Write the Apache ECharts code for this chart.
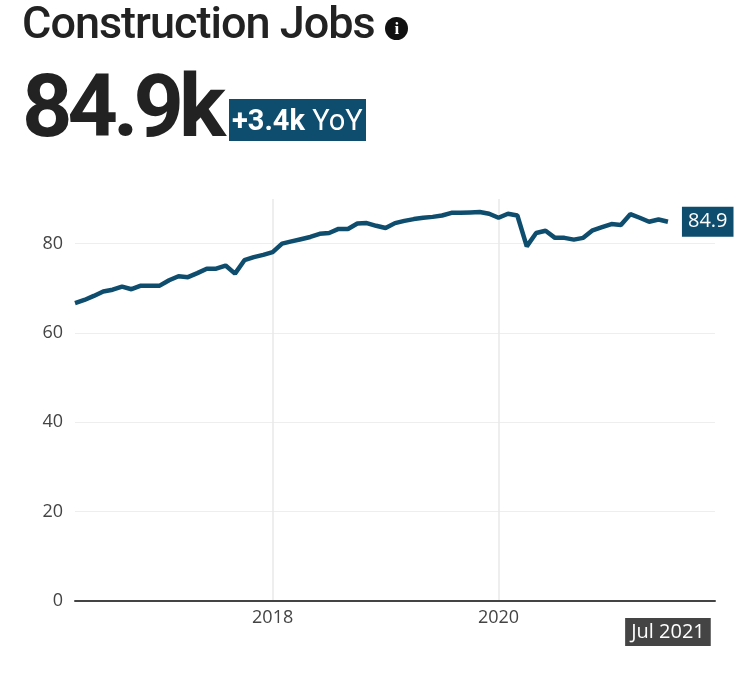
<!DOCTYPE html>
<html>
<head>
<meta charset="utf-8">
<script src="https://cdn.jsdelivr.net/npm/echarts@6/dist/echarts.min.js"></script>
<style>
  body { margin: 0; background: #fff; font-family: Roboto, sans-serif; }
  .head { position: absolute; left: 22px; top: 0; color: #222; z-index: 2; }
  .title { font-size: 45px; font-weight: 500; letter-spacing: -1px; line-height: 46px; }
  .info { display: inline-block; width: 23px; height: 23px; border-radius: 50%; background: #111; color: #fff;
          font: bold 17px serif; text-align: center; line-height: 23px; vertical-align: 4px; }
  .big { font-size: 88px; font-weight: 700; letter-spacing: -5px; line-height: 100px; margin-top: 10px; }
  .badge { display: inline-block; background: #0e4d6e; color: #fff; font-size: 29px; font-weight: 400;
           letter-spacing: 0; padding: 0 3px; line-height: 42px; vertical-align: 6px; margin-left: 8px; }
  .badge b { font-weight: 700; }
  .chart { position: absolute; left: 0; top: 0; width: 756px; height: 686px; }
</style>
</head>
<body>
<div class="head">
  <div class="title">Construction Jobs <span class="info">i</span></div>
  <div class="big">84.9k<span class="badge"><b>+3.4k</b> YoY</span></div>
</div>
<div class="chart"></div>
<script>
var monthNames = ['Jan','Feb','Mar','Apr','May','Jun','Jul','Aug','Sep','Oct','Nov','Dec'];
// Apr 2016 .. Dec 2021
var months = [];
for (var y = 2016; y <= 2021; y++) {
  for (var m = 0; m < 12; m++) {
    if (y === 2016 && m < 3) continue;
    months.push(monthNames[m] + ' ' + y);
  }
}
var jobs = [66.7, 67.4, 68.3, 69.3, 69.7, 70.4, 69.8, 70.6, 70.6,
  70.6, 71.8, 72.7, 72.5, 73.4, 74.4, 74.4, 75.1, 73.3, 76.3, 77.0, 77.5,
  78.1, 80.0, 80.5, 81.0, 81.5, 82.2, 82.4, 83.3, 83.3, 84.5, 84.6, 84.0,
  83.5, 84.6, 85.1, 85.5, 85.8, 86.0, 86.3, 86.9, 86.9, 87.0, 87.1, 86.7,
  85.8, 86.7, 86.3, 79.4, 82.4, 82.9, 81.3, 81.3, 80.9, 81.3, 83.0, 83.7,
  84.4, 84.2, 86.6, 85.8, 84.9, 85.4, 84.9];
var yTicks = [0, 20, 40, 60, 80];

var chart = echarts.init(document.querySelector('.chart'));
chart.setOption({
  animation: false,
  grid: { left: 75, right: 41, top: 199, bottom: 85 },
  xAxis: {
    type: 'category',
    data: months,
    boundaryGap: false,
    axisLine: { lineStyle: { color: '#444', width: 2 } },
    axisTick: { show: false },
    axisLabel: {
      interval: function (i, v) { return v === 'Jan 2018' || v === 'Jan 2020'; },
      formatter: function (v) { return v.slice(4); },
      color: '#444', fontSize: 18, margin: 8, fontFamily: 'Open Sans'
    },
    splitLine: {
      show: true,
      interval: function (i, v) { return v === 'Jan 2018' || v === 'Jan 2020'; },
      lineStyle: { color: '#e8e8e8', width: 1.5 }
    },
    axisPointer: {
      show: true, value: 'Jul 2021', status: 'show', triggerOn: 'none',
      lineStyle: { opacity: 0 },
      label: { show: true, backgroundColor: '#444', color: '#fff', fontSize: 20,
               padding: [4, 6], margin: 17, fontFamily: 'Open Sans', borderRadius: 0 }
    }
  },
  yAxis: {
    type: 'value', min: 0, max: 90, interval: 20,
    axisLine: { show: false }, axisTick: { show: false },
    axisLabel: {
      color: '#444', fontSize: 18, margin: 12, fontFamily: 'Open Sans',
      formatter: function (v) { return yTicks.indexOf(v) >= 0 ? v : ''; }
    },
    splitLine: { lineStyle: { color: ['#eee', '#eee', '#eee', '#eee', '#eee', 'transparent'], width: 1 } }
  },
  series: [{
    type: 'line',
    data: jobs,
    symbol: 'none',
    lineStyle: { color: '#0e4d6e', width: 4.5 },
    endLabel: {
      show: true, formatter: '84.9', color: '#fff', backgroundColor: '#0e4d6e',
      fontSize: 20, padding: [5, 6], distance: 14, fontFamily: 'Open Sans'
    }
  }]
});
</script>
</body>
</html>
